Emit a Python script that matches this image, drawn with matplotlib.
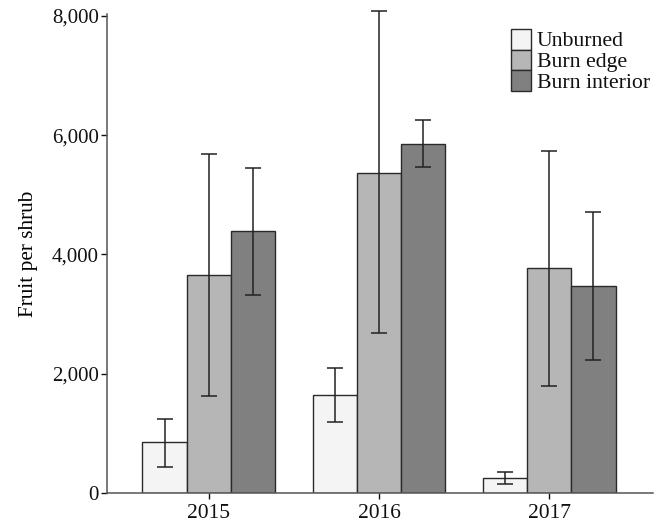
import numpy as np
import matplotlib.pyplot as plt
from matplotlib.patches import Rectangle

years = ["2015", "2016", "2017"]
treatments = ["Unburned", "Burn edge", "Burn interior"]

unburned = [848, 1640, 251]
unburned_lo = [435, 1193, 151]
unburned_hi = [1243, 2092, 351]

burn_edge = [3654, 5367, 3777]
burn_edge_lo = [1623, 2678, 1791]
burn_edge_hi = [5679, 8072, 5729]

burn_interior = [4385, 5853, 3464]
burn_interior_lo = [3314, 5468, 2231]
burn_interior_hi = [5444, 6259, 4703]

plt.rcParams['font.family'] = ['Liberation Serif', 'DejaVu Serif']

W, H = 665, 529
fig = plt.figure(figsize=(W / 100, H / 100), dpi=100)
ax = fig.add_axes([107 / W, 1 - 493 / H, (653 - 107) / W, (493 - 14) / H])

x = np.arange(len(years))
w = 0.26
colors = ["#f4f4f4", "#b6b6b6", "#808080"]
edge = "#2a2a2a"
series = [(unburned, unburned_lo, unburned_hi),
          (burn_edge, burn_edge_lo, burn_edge_hi),
          (burn_interior, burn_interior_lo, burn_interior_hi)]

for i, (vals, lo, hi) in enumerate(series):
    vals = np.array(vals)
    err = np.array([vals - np.array(lo), np.array(hi) - vals])
    pos = x + (i - 1) * w
    ax.bar(pos, vals, w, color=colors[i], edgecolor=edge, linewidth=1.0,
           label=treatments[i], zorder=2)
    ax.errorbar(pos, vals, yerr=err, fmt='none', ecolor="#222222", elinewidth=1.1,
                capsize=6, capthick=1.1, zorder=3, clip_on=False)

ax.set_xlim(-0.598, 2.61)
ax.set_ylim(0, 8030)
ax.set_yticks([0, 2000, 4000, 6000, 8000])
ax.set_yticklabels(["0", "2,000", "4,000", "6,000", "8,000"])
ax.set_xticks(x)
ax.set_xticklabels(years)
ax.tick_params(axis='y', labelsize=15, colors="#111111", length=4, width=1, pad=2)
ax.tick_params(axis='x', labelsize=15.5, colors="#111111", length=4, width=1, pad=4)
for t in ax.get_xticklines() + ax.get_yticklines():
    t.set_color("#555555")

ax.set_ylabel("Fruit per shrub", fontsize=15.3, labelpad=10)

for s in ["top", "right"]:
    ax.spines[s].set_visible(False)
for s in ["left", "bottom"]:
    ax.spines[s].set_color("#555555")
    ax.spines[s].set_linewidth(1.1)

# legend: stacked swatches with no gaps, no frame
box = 20.7
for i, name in enumerate(treatments):
    y0 = 29 + i * box
    fig.patches.append(Rectangle((511 / W, 1 - (y0 + box) / H), 20 / W, box / H,
                                 transform=fig.transFigure, facecolor=colors[i],
                                 edgecolor=edge, linewidth=1.0))
    fig.text(537 / W, 1 - (y0 + box / 2) / H, name, fontsize=15.7,
             ha="left", va="center_baseline", color="#111111")

fig.savefig("out.png", dpi=100)
